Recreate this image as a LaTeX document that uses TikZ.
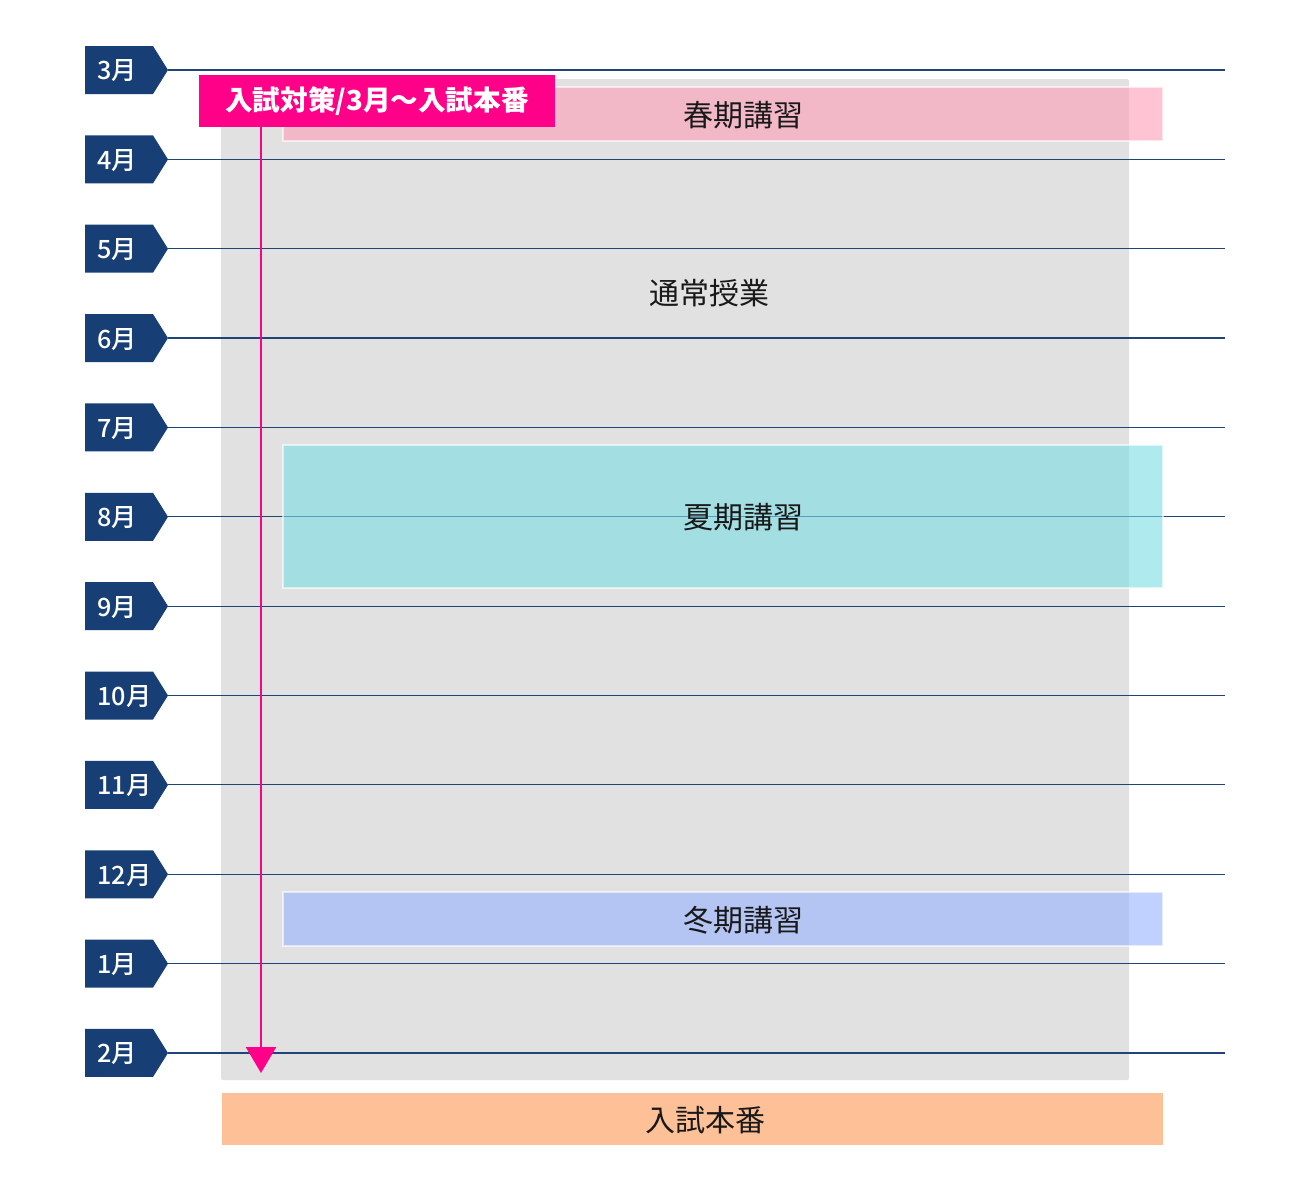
\documentclass[tikz,border=0pt]{standalone}
\usepackage{fontspec}
\setmainfont{Noto Sans CJK JP}
\newfontfamily\mediumfont{Noto Sans CJK JP Medium}
\usepackage{tikz}
\usetikzlibrary{arrows.meta, positioning}
\usepackage{xcolor}
\definecolor{tagblue}{HTML}{173F75}
\definecolor{linenavy}{HTML}{1E4478}
\definecolor{bggray}{HTML}{E1E1E1}
\definecolor{springpink}{RGB}{255,157,183}
\definecolor{summercyan}{RGB}{122,220,227}
\definecolor{winterblue}{RGB}{150,177,255}
\definecolor{exampeach}{HTML}{FEC197}
\definecolor{magentapink}{HTML}{FF0088}
\tikzset{
	block/.style={draw=white, draw opacity=0.6, line width=1pt, fill opacity=0.6, inner sep=0pt},
	monthline/.style={draw=linenavy, line width=0.6pt},
	monthtag/.style={fill=tagblue},
	label/.style={font=\fontsize{15}{18}\selectfont, text=black!90}
}

\begin{document}
\begin{tikzpicture}[x=0.5pt, y=-0.5pt]
		\useasboundingbox (0,0) rectangle (1300,1200);
		
		% Regular classes (background)
		\node[fill=bggray, rounded corners=1pt, minimum width=454pt, minimum height=500.5pt, inner sep=0pt] (regular) at (675,579.5) {};
		\node[label] (regulartext) at (709,293) {通常授業};
		
		% Month lines and tags
		\foreach \m [count=\i from 0] in {3,4,5,6,7,8,9,10,11,12,1,2} {
			\pgfmathsetmacro{\y}{70+\i*89.36}
			\draw[monthline] (168,\y) -- (1225,\y);
			\fill[monthtag] (85,\y-24) -- (153,\y-24) -- (168,\y) -- (153,\y+24) -- (85,\y+24) -- cycle;
			\node[anchor=west, inner sep=0pt, text=white, font=\mediumfont\fontsize{12.6}{14}\selectfont] (m\i) at (97,\y+1) {\m 月};
		}
		
		% Seasonal courses
		\node[block, fill=springpink, minimum width=440pt, minimum height=27pt] (spring) at (723,114) {};
		\node[label] at (743,115) {春期講習};
		
		\node[block, fill=summercyan, minimum width=440pt, minimum height=71.5pt] (summer) at (723,516.5) {};
		\node[label] at (743,517) {夏期講習};
		
		\node[block, fill=winterblue, minimum width=440pt, minimum height=27pt] (winter) at (723,919) {};
		\node[label] at (743,920) {冬期講習};
		
		% Entrance exam
		\node[fill=exampeach, minimum width=470.5pt, minimum height=26pt, inner sep=0pt] (exam) at (692.5,1119) {};
		\node[label] at (705,1120) {入試本番};
		
		% Exam preparation
		\node[fill=magentapink, minimum width=178pt, minimum height=26pt, inner sep=0pt, text=white, font=\fontsize{13.8}{16}\selectfont\bfseries] (prep) at (377,101) {入試対策/3月～入試本番};
		\coordinate (prepend) at (261,1073);
		\draw[-{Triangle[width=15pt, length=13pt]}, magentapink, line width=1.3pt] (prep.south -| prepend) -- (prepend);
	\end{tikzpicture}
\end{document}
